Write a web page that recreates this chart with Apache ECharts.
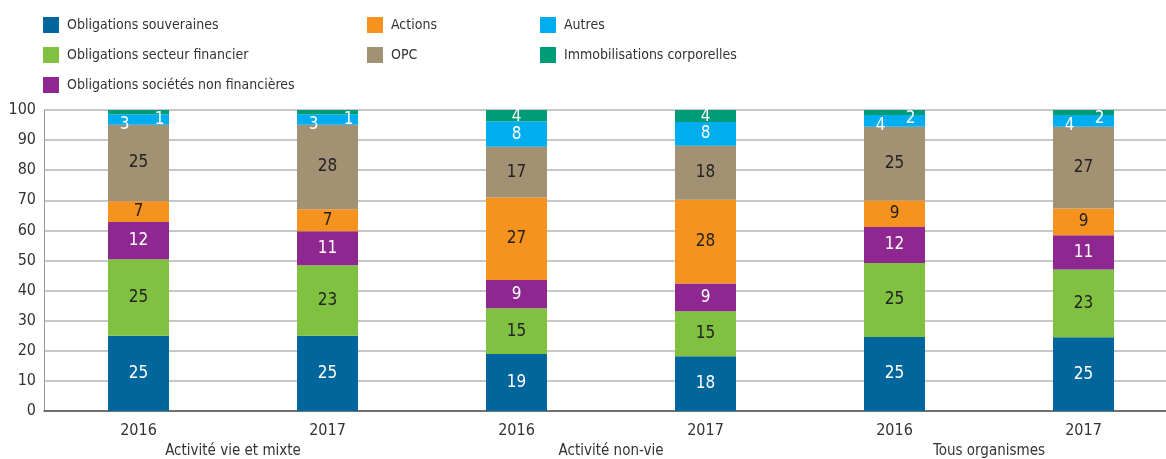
<!DOCTYPE html>
<html>
<head>
<meta charset="utf-8">
<script src="https://cdn.jsdelivr.net/npm/echarts@6/dist/echarts.min.js"></script>
<style>
html,body{margin:0;padding:0;background:#fff}
#chart{width:1166px;height:459px}
</style>
</head>
<body>
<div id="chart"></div>
<script>
var categories = ['2016', '2017', '2016', '2017', '2016', '2017'];
var groups = ['Activité vie et mixte', 'Activité non-vie', 'Tous organismes'];

var souveraines = [25.0, 25.0, 18.9, 18.2, 24.6, 24.5];
var secteurFinancier = [25.4, 23.4, 15.2, 14.9, 24.6, 22.5];
var societesNonFin = [12.4, 11.3, 9.4, 9.3, 11.9, 11.4];
var actions = [6.9, 7.3, 27.4, 27.8, 8.8, 8.9];
var opc = [25.4, 28.1, 16.9, 17.9, 24.5, 27.1];
var autres = [3.45, 3.45, 8.4, 7.9, 3.9, 3.9];
var immobilisations = [1.45, 1.45, 3.8, 4.0, 1.7, 1.7];

// label offsets for the thin top segments (style only)
var autresOffset = [[-14, 5], [-14, 5], [0, 0], [0, 0], [-14, 5], [-14, 5]];
var immobOffset = [[21, 7], [21, 7], [0, 1], [0, 1], [16, 6], [16, 6]];

var FONT = "'Liberation Sans Narrow', 'DejaVu Sans Condensed', sans-serif";

function serie(name, values, color, textColor, offsets) {
    return {
        name: name,
        type: 'bar',
        stack: 'total',
        barWidth: 61,
        xAxisIndex: 0,
        yAxisIndex: 0,
        itemStyle: {color: color},
        label: {
            show: true,
            position: 'inside',
            color: textColor,
            fontFamily: FONT,
            fontSize: 17,
            formatter: function (p) { return Math.round(p.value); }
        },
        data: values.map(function (v, i) {
            if (!offsets) return v;
            return {value: v, label: {offset: offsets[i]}};
        })
    };
}

function legendBlock(left, names) {
    return {
        left: left, top: 12, orient: 'vertical', itemGap: 14,
        itemWidth: 16, itemHeight: 16, icon: 'rect', selectedMode: false,
        textStyle: {fontSize: 14, lineHeight: 16, color: '#333', fontFamily: FONT, padding: [0, 0, 0, 3]},
        data: names
    };
}

var chart = echarts.init(document.getElementById('chart'));
chart.setOption({
    animation: false,
    textStyle: {fontFamily: FONT},
    legend: [
        legendBlock(38, ['Obligations souveraines', 'Obligations secteur financier', 'Obligations sociétés non financières']),
        legendBlock(362, ['Actions', 'OPC']),
        legendBlock(535, ['Autres', 'Immobilisations corporelles'])
    ],
    grid: [
        {left: 44, width: 1134, top: 110, bottom: 48, outerBoundsMode: 'none'},
        {left: 44, width: 1134, top: 110, bottom: 48, outerBoundsMode: 'none'}
    ],
    xAxis: [
        {
            type: 'category', gridIndex: 0, data: categories,
            axisLine: {lineStyle: {color: '#555', width: 1.5}},
            axisTick: {show: false},
            axisLabel: {color: '#333', fontSize: 16, fontFamily: FONT, margin: 12}
        },
        {
            type: 'category', gridIndex: 1, data: groups,
            axisLine: {show: false},
            axisTick: {show: false},
            axisLabel: {color: '#333', fontSize: 15, fontFamily: FONT, margin: 33}
        }
    ],
    yAxis: [
        {
            type: 'value', gridIndex: 0, min: 0, max: 100, interval: 10,
            axisLine: {show: true, lineStyle: {color: '#999'}},
            axisTick: {show: false},
            splitLine: {lineStyle: {color: '#b4b4b4', width: 1.5}},
            axisLabel: {color: '#333', fontSize: 16, fontFamily: FONT, margin: 8}
        },
        {
            type: 'value', gridIndex: 1, min: 0, max: 100, show: false
        }
    ],
    series: [
        serie('Obligations souveraines', souveraines, '#00669b', '#fff'),
        serie('Obligations secteur financier', secteurFinancier, '#80c141', '#222'),
        serie('Obligations sociétés non financières', societesNonFin, '#8e278f', '#fff'),
        serie('Actions', actions, '#f6921e', '#222'),
        serie('OPC', opc, '#a39174', '#222'),
        serie('Autres', autres, '#00aeef', '#fff', autresOffset),
        serie('Immobilisations corporelles', immobilisations, '#009b77', '#fff', immobOffset)
    ]
});
</script>
</body>
</html>
